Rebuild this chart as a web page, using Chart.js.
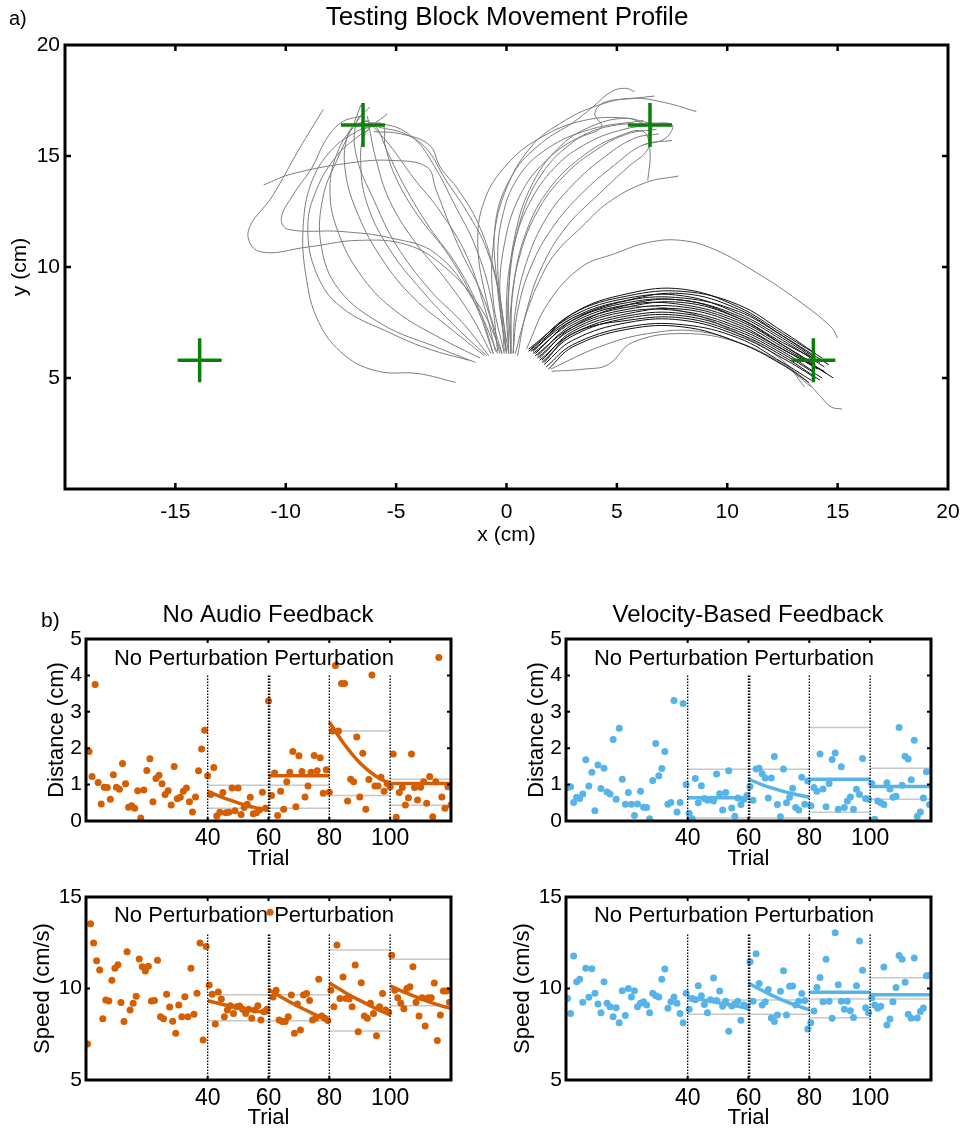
<!DOCTYPE html>
<html>
<head>
<meta charset="utf-8">
<script src="https://cdn.jsdelivr.net/npm/chart.js@4.4.1/dist/chart.umd.min.js"></script>
<style>
  body { margin: 0; background: #fff; }
  #page { position: relative; width: 968px; height: 1130px; overflow: hidden; }
  canvas { position: absolute; }
</style>
</head>
<body>
<div id="page">
  <canvas id="movement" width="974" height="550" style="left:0;top:0"></canvas>
  <canvas id="distNoAudio" width="480" height="285" style="left:0;top:590px"></canvas>
  <canvas id="distVelocity" width="488" height="285" style="left:480px;top:590px"></canvas>
  <canvas id="speedNoAudio" width="480" height="250" style="left:0;top:880px"></canvas>
  <canvas id="speedVelocity" width="488" height="250" style="left:480px;top:880px"></canvas>
</div>
<script>
// ---- a) movement profile ----
const targets = [[-13.9, 5.8], [-6.5, 16.4], [6.5, 16.4], [13.9, 5.8]];

// trajectories toward the upper-left target
const upperLeftPaths = [
  [[-2.3,4.8],[-4,5.2],[-5.8,5.3],[-7.3,6],[-8.5,7.5],[-9.1,9.7],[-9.2,12],[-8.8,13.9],[-7.9,15.3],[-6.8,16.1],[-6.3,16.3]],
  [[-1.7,5.8],[-3.5,6.3],[-5.2,7],[-7.5,8.2],[-8.6,9.7],[-9,11.8],[-8.6,13.5],[-7.7,15],[-6.7,15.9],[-6.2,16.2]],
  [[-1.2,5.9],[-3,6.8],[-5,8],[-6.5,9.5],[-7.6,11.5],[-8,13.5],[-7.6,15.3],[-6.8,16.4],[-6.2,16.6]],
  [[-1,6],[-2.5,7.2],[-4.2,8.6],[-5.6,10.3],[-6.7,12.3],[-7.3,14.3],[-7.2,15.9],[-6.6,16.8]],
  [[-0.8,6],[-2,7.5],[-3.5,9],[-5,11],[-6,13],[-6.8,15],[-6.8,16.5],[-6.2,17.2]],
  [[-0.7,6.1],[-1.6,7.8],[-2.8,9.5],[-4.2,11.2],[-5.3,13],[-5.9,14.8],[-6.2,16.2],[-6.3,16.8]],
  [[-0.6,6.1],[-1.2,8],[-2.2,10],[-3.5,11.8],[-4.6,13.6],[-5.4,15.2],[-5.9,16.3],[-6.4,16.6]],
  [[-0.5,6.2],[-1,8.2],[-1.8,10.5],[-3,12.5],[-4.2,14],[-5.3,15.5],[-6.1,16.4]],
  [[-0.4,6.2],[-0.7,8.6],[-1.4,10.9],[-2.4,12.9],[-3.3,14.6],[-4.2,15.8],[-5.4,16.4],[-6.6,16.2]],
  [[-0.1,6.2],[-0.3,8.5],[-0.9,10.8],[-1.8,12.5],[-2.8,14],[-3.6,15.3],[-4.6,16],[-5.8,16.3]],
  [[0,6.2],[-0.2,8],[-0.6,10],[-1.3,12],[-2.2,13.5],[-3,14.5],[-3.5,15.5],[-4.8,16],[-6,16.1]],
  [[-0.2,6.1],[-1.2,8.2],[-2.8,10],[-4.5,11],[-6.7,11.2],[-9,10.9],[-11.2,10.7],[-11.7,11.6],[-10.6,13.2],[-9.4,15.3],[-8.3,17.1]],
  [[-0.4,6.1],[-1.5,8.5],[-3.2,10.6],[-5.2,11.3],[-7.5,11.6],[-9.9,11.7],[-10.2,12.2],[-9.7,13.2],[-8.8,14.5],[-8.2,15.7],[-7.5,16.5],[-6.6,16.8]],
  [[-0.3,6.1],[-1,8.5],[-2.2,11],[-3.2,13.5],[-3.6,14.5],[-5.2,14.8],[-7,14.7],[-9.7,14.2],[-11,13.7]],
  [[-1.4,5.7],[-3.2,6.4],[-5.6,7.4],[-7.6,9],[-8.4,11],[-8.3,13.2],[-7.6,15],[-6.9,16.5],[-6.6,17.3]],
  [[-0.9,6],[-2.3,7.3],[-3.8,8.9],[-5.3,10.8],[-6.3,12.8],[-6.6,14.6],[-6.4,16],[-5.4,16.9]],
  [[-0.6,6.1],[-1.4,8.3],[-2.6,10.5],[-4,12.3],[-5,14],[-5.5,15.5],[-5.6,16.4],[-6.2,16.5]]
];

// trajectories toward the upper-right target
const upperRightPaths = [
  [[-0.2,6.1],[-0.9,8.5],[-1.3,11],[-1,13],[0,14.6],[1.5,15.8],[3.5,16.6],[5.5,16.7],[6.3,16.4]],
  [[-0.1,6.1],[-0.6,8.5],[-0.6,11],[-0.1,13.3],[1.1,15.4],[2.65,16.6],[4.2,17.3],[5.7,17.6],[7.2,17.4],[8.6,17]],
  [[0,6.1],[-0.3,8.5],[-0.1,11],[0.6,13.2],[1.8,14.8],[3.4,15.9],[5,16.4],[6.4,16.4]],
  [[0.1,6.1],[0,8.5],[0.3,10.8],[1,12.8],[2.2,14.5],[3.7,15.6],[5.3,16.2],[6.6,16.4]],
  [[0.2,6.1],[0.2,8.2],[0.6,10.5],[1.4,12.5],[2.6,14.1],[4.1,15.3],[5.5,16],[6.8,16.2]],
  [[0.3,6.1],[0.4,8],[0.9,10.2],[1.8,12.2],[3,13.7],[4.5,15],[5.8,15.8],[6.9,16]],
  [[0.3,6.1],[0.5,8],[1.1,10],[2.1,11.8],[3.4,13.3],[4.9,14.6],[6.2,15.5],[7.5,15.7]],
  [[0.4,6.1],[0.85,7.75],[1.45,9.3],[2.2,10.6],[3.4,11.8],[4.6,12.9],[6.3,13.8],[7.8,14.1]],
  [[0.2,6.1],[0.1,8.8],[0.4,11.5],[1.2,13.8],[2.5,15.5],[4,16.4],[5.4,16.7],[6.4,16.5],[7.5,16.4],[7.2,15.8],[6.2,15.5]],
  [[0,6.1],[-0.4,9],[-0.5,12],[0.3,14.2],[1.6,15.6],[3,16.5],[3.9,17.2],[4.75,17.9],[5.4,18.05],[5.8,17.9]],
  [[0.1,6.1],[0.1,9],[0.6,12],[1.6,14.2],[3.1,15.7],[4.3,16.3],[4,16.9],[4.4,17.4],[5.8,17.6],[6.7,17.7]],
  [[0.2,6.1],[0.3,9],[0.9,11.6],[2,13.6],[3.6,15.1],[5.1,15.9],[6.2,16.1],[6.5,15.2],[6.4,13.9]],
  [[0.5,6],[0.9,8],[1.6,10],[2.7,11.8],[4.2,13.3],[5.5,14.5],[6.4,15.3],[6.6,16.3]],
  [[0.1,6.1],[-0.2,8],[-0.4,10.2],[-0.2,12.2],[0.5,14],[1.8,15.3],[3.8,16.2],[6.2,16.6]]
];

// trajectories toward the right target (dark bundle)
const rightPaths = [
  [[1.0,6.3],[3,7.8],[5.5,8.6],[8,8.7],[10.5,7.9],[12.5,6.8],[14.2,5.7]],
  [[1.1,6.2],[3,7.6],[5.5,8.4],[8,8.5],[10.5,7.8],[12.5,6.7],[14.4,5.5]],
  [[1.2,6.1],[3,7.5],[5.5,8.3],[8,8.3],[10.5,7.6],[12.5,6.5],[14.0,5.6]],
  [[1.3,6.0],[3,7.3],[5.5,8.1],[8,8.2],[10.5,7.5],[12.5,6.4],[14.5,5.2]],
  [[1.4,5.9],[3,7.2],[5.5,8.0],[8,8.0],[10.5,7.3],[12.5,6.3],[14.1,5.4]],
  [[1.5,5.8],[3,7.0],[5.5,7.8],[8,7.9],[10.5,7.2],[12.5,6.2],[13.9,5.3]],
  [[1.6,5.7],[3,6.9],[5.5,7.7],[8,7.8],[10.5,7.1],[12.5,6.1],[14.3,5.0]],
  [[1.7,5.6],[3,6.7],[5.5,7.5],[8,7.6],[10.5,6.9],[12.5,5.9],[14.0,5.0]],
  [[1.8,5.5],[3,6.5],[5.5,7.3],[8,7.4],[10.5,6.8],[12.5,5.7],[13.8,4.9]],
  [[1.2,6.2],[3,7.9],[5.5,8.8],[8,9.0],[10.5,8.2],[12.5,7.0],[14.3,5.9]],
  [[1.0,6.2],[3,7.7],[5.5,8.5],[8,8.6],[10.5,8.0],[12.5,6.9],[14.6,5.6]],
  [[1.4,6.0],[3,7.4],[5.5,8.2],[8,8.4],[10.5,7.7],[12.5,6.6],[14.1,5.8]],
  [[1.6,5.8],[3,7.1],[5.5,7.9],[8,8.1],[10.5,7.4],[12.5,6.3],[14.4,5.3]],
  [[1.9,5.4],[3,6.4],[5.5,7.2],[8,7.3],[10.5,6.6],[12.5,5.6],[13.7,4.8]],
  [[1.3,6.1],[3,7.6],[5.5,8.5],[8,8.8],[10.5,8.1],[12.5,6.9],[14.0,5.9]],
  [[1.5,5.9],[3,7.3],[5.5,8.3],[8,8.5],[10.5,7.7],[12.5,6.5],[14.8,5.0]],
  [[1.1,6.3],[3,7.9],[5.5,8.7],[8,8.9],[10.5,8.3],[12.5,7.1],[14.0,6.1]],
  [[1.7,5.7],[3,7.0],[5.5,7.6],[8,7.7],[10.5,7.0],[12.5,6.0],[14.2,4.9]]
];

// lighter outliers toward the right target
const rightGrayPaths = [
  [[0.9,6.3],[1.9,8.4],[3.4,10.0],[4.9,10.6],[6.4,11.1],[7.9,11.2],[9.4,10.8],[11.4,9.7],[13.2,8.5],[14.7,7.3],[15.0,6.8]],
  [[2,5.4],[4.2,6.4],[6.4,7.0],[8.7,7.1],[11,6.4],[13.2,5.2],[14.2,4.2],[14.7,3.7],[15.2,3.6]],
  [[2.05,5.3],[3.5,5.4],[4.6,5.6],[5.7,6.6],[8,7.0],[10.5,6.6],[12.5,5.6],[13.8,4.6]],
  [[1.2,6.2],[3,7.7],[5.5,8.2],[8,8.0],[10.5,7.0],[12.5,5.8],[13.5,4.6]]
];

// ---- b) per-trial results ----
const trialTicks = [40, 60, 80, 100];
const blockEdges = [40, 60, 60.4, 80, 100];

const distNoAudio = [
  1.91,1.22,3.75,1.06,0.47,0.93,0.92,0.6,1.27,0.93,0.87,1.58,1.02,0.38,0.42,0.35,0.83,0.08,0.85,1.39,
  1.71,0.53,1.17,1.26,1.02,0.73,0.83,0.44,1.5,0.61,0.65,0.82,0.91,0.53,0.25,0.66,1.38,1.98,2.49,1.24,
  0.73,1.47,0.14,0.24,0.78,0.23,0.24,0.91,0.28,0.91,0.18,0.37,0.46,0.65,0.2,0.23,0.3,0.79,0.35,3.3,
  0.7,1.32,0.15,0.82,0.32,1.08,1.34,1.91,0.39,1.79,1.36,0.66,0.96,1.34,1.8,1.38,1.74,0.76,1.41,0.79,
  2.47,4.27,2.47,3.78,3.78,0.55,1.15,1.08,2.31,0.66,1.86,0.32,1.14,4.01,0.96,0.96,1.2,0.82,1.03,0.94,
  1.84,0.1,0.78,0.92,0.44,0.64,1.84,0.92,0.58,0.93,1.08,0.49,1.22,0.12,1.08,4.49,0.66,0.35,0.94,0.44
];
const distVelocity = [
  0.92,0.94,0.51,0.65,0.62,0.74,1.68,0.96,1.34,0.28,1.54,0.89,1.45,0.8,0.74,2.24,0.6,2.55,1.15,0.46,
  0.78,0.46,0.15,0.47,0.82,0.38,0.37,0.06,1.11,2.13,1.24,1.44,1.91,0.46,0.51,3.31,0.25,0.51,3.23,1.0,
  0.21,0.06,1.17,0.5,0.97,0.62,0.57,0.6,0.55,1.29,0.75,0.3,0.78,1.38,0.36,0.13,0.63,0.45,0.6,0.7,
  0.95,0.57,1.43,1.45,1.3,1.18,0.63,1.18,1.77,0.45,0.12,1.43,0.5,0.65,0.9,0.37,0.3,1.2,0.46,1.1,
  0.42,0.92,0.82,1.84,0.88,0.39,1.03,1.69,1.87,0.32,1.49,0.37,0.55,0.66,0.32,0.87,0.73,1.72,0.62,0.6,
  1.03,0.05,0.55,0.5,0.45,1.05,0.88,0.65,0.68,2.57,0.98,1.78,1.7,1.13,2.22,0.13,0.25,0.63,1.35,0.45
];
const speedNoAudio = [
  6.97,13.54,12.49,11.52,11.01,8.35,9.37,9.32,10.45,11.1,11.3,9.23,8.19,12.01,8.83,9.19,9.57,11.61,11.19,10.96,
  11.21,9.32,9.34,11.54,8.46,8.35,9.68,8.99,8.21,7.55,9.1,8.46,9.55,8.46,11.1,8.59,9.74,12.49,7.19,12.3,
  10.19,9.68,8.06,9.81,9.43,8.46,8.83,9.06,8.64,9.0,9.04,8.86,8.64,8.86,8.37,8.82,9.06,8.28,8.73,8.86,
  14.16,9.54,9.9,8.28,8.19,8.19,8.46,9.64,7.55,9.15,7.73,9.64,9.72,9.35,8.28,8.37,10.5,8.5,8.37,8.25,
  9.9,9.0,12.38,9.45,10.63,9.45,9.43,9.0,11.28,7.64,10.32,8.5,8.37,9.2,8.64,7.42,9.0,9.72,8.82,8.7,
  11.82,9.9,9.5,9.2,8.9,10.0,10.1,11.19,9.25,8.5,9.5,7.95,9.5,9.5,10.3,7.16,8.55,9.87,9.87,9.25
];
const speedVelocity = [
  9.46,8.64,11.78,10.37,10.5,9.25,11.1,9.52,11.08,9.74,9.15,8.68,10.37,9.19,9.0,8.46,8.95,8.13,9.88,8.52,
  10.0,9.54,9.88,9.0,9.19,9.28,9.1,8.68,9.74,9.61,9.54,10.5,11.06,8.92,9.28,9.54,9.19,8.64,8.13,9.74,
  8.86,9.45,9.39,10.15,9.61,9.12,8.68,9.39,10.57,9.35,9.86,9.03,9.3,7.66,9.05,9.15,9.3,8.26,9.1,9.0,
  11.46,9.3,11.9,10.28,9.1,9.28,9.94,8.39,8.19,8.55,9.85,10.97,8.55,10.12,10.14,9.1,9.3,9.72,9.35,7.79,
  8.13,8.77,10.06,10.6,9.28,11.6,9.3,8.37,13.05,10.2,9.3,8.87,9.3,8.79,8.41,10.15,12.6,11.0,8.95,8.68,
  9.5,9.1,8.92,9.03,11.17,8.0,8.33,9.28,10.05,11.81,11.6,10.34,8.59,8.37,11.67,8.39,8.75,8.93,10.7,10.72
];

// block fits: [trial, value] points
const fitDistNoAudio = [
  [[40,0.82],[45,0.64],[50,0.5],[55,0.38],[60,0.3]],
  [[60,1.24],[80,1.24]],
  [[80,2.72],[85,2.1],[90,1.6],[95,1.25],[100,1.02]],
  [[100,1.03],[120,1.03]]
];
const fitDistVelocity = [
  [[40,0.64],[60,0.64]],
  [[60,1.15],[65,0.98],[70,0.85],[75,0.74],[80,0.65]],
  [[80,1.15],[100,1.15]],
  [[100,0.95],[120,0.95]]
];
const fitSpeedNoAudio = [
  [[40,9.33],[45,9.13],[50,8.95],[55,8.8],[60,8.68]],
  [[60,9.95],[65,9.45],[70,9.0],[75,8.6],[80,8.22]],
  [[80,10.3],[85,9.8],[90,9.35],[95,8.93],[100,8.55]],
  [[100,10.15],[105,9.78],[110,9.45],[115,9.15],[120,8.9]]
];
const fitSpeedVelocity = [
  [[40,9.55],[45,9.38],[50,9.22],[55,9.07],[60,8.93]],
  [[60,10.28],[65,9.85],[70,9.45],[75,9.12],[80,8.83]],
  [[80,9.8],[100,9.8]],
  [[100,9.66],[120,9.66]]
];

// gray reference bands: [fromTrial, toTrial, value]
const boundsDistNoAudio = [[40,80,0.98],[40,80,0.35],[80,100,2.47],[80,100,0.7],[100,120,1.15],[100,120,0.43]];
const boundsDistVelocity = [[40,80,1.42],[40,80,0.08],[80,100,2.57],[80,100,0.24],[100,120,1.45],[100,120,0.6]];
const boundsSpeedNoAudio = [[40,80,9.66],[40,80,8.24],[80,100,12.1],[80,100,7.68],[100,120,11.6],[100,120,9.06]];
const boundsSpeedVelocity = [[40,80,9.37],[40,80,8.59],[80,100,9.43],[80,100,8.4],[100,120,10.59],[100,120,9.43]];

const orange = '#d55e00';
const blue = '#56b4e9';
const FONT = "'Liberation Sans', Arial, Helvetica, sans-serif";

Chart.defaults.font.family = FONT;
Chart.defaults.color = '#000';

// box round the plot area, with inward ticks on all four sides
const framePlugin = {
  id: 'frame',
  afterDatasetsDraw(chart, args, opts) {
    const { ctx, chartArea: a } = chart;
    const x = chart.scales.x, y = chart.scales.y;
    ctx.save();
    ctx.strokeStyle = '#000';
    ctx.lineWidth = opts.tickWidth;
    ctx.beginPath();
    opts.xTicks.forEach(v => {
      const px = x.getPixelForValue(v);
      ctx.moveTo(px, a.bottom); ctx.lineTo(px, a.bottom - opts.tickLen);
      ctx.moveTo(px, a.top); ctx.lineTo(px, a.top + opts.tickLen);
    });
    opts.yTicks.forEach(v => {
      const py = y.getPixelForValue(v);
      ctx.moveTo(a.left, py); ctx.lineTo(a.left + opts.tickLen, py);
      ctx.moveTo(a.right, py); ctx.lineTo(a.right - opts.tickLen, py);
    });
    ctx.stroke();
    ctx.lineWidth = opts.width;
    ctx.strokeRect(a.left, a.top, a.right - a.left, a.bottom - a.top);
    ctx.restore();
  }
};

// free text: panel letters, titles, in-plot notes
const textPlugin = {
  id: 'texts',
  afterDraw(chart, args, opts) {
    const ctx = chart.ctx;
    ctx.save();
    ctx.fillStyle = '#000';
    ctx.textBaseline = 'middle';
    opts.items.forEach(t => {
      let px = t.x, py = t.y;
      if (t.data) {
        px = chart.scales.x.getPixelForValue(t.x);
        py = chart.scales.y.getPixelForValue(t.y);
      }
      ctx.font = t.size + 'px ' + FONT;
      ctx.textAlign = t.align || 'left';
      ctx.fillText(t.text, px, py);
    });
    ctx.restore();
  }
};

function toPoints(list) {
  return list.map(p => ({ x: p[0], y: p[1] }));
}

function pathDataset(path, color) {
  return {
    data: toPoints(path),
    showLine: true,
    borderColor: color,
    borderWidth: 1,
    pointRadius: 0,
    tension: 0.4
  };
}

// fixed axis boxes so the plot area lands where the figure has it
function fixHeight(h) {
  return s => { s.height = h; };
}
function fixWidth(w) {
  return s => { s.width = w; };
}

// Movement profile chart
function initMovementChart() {
  const datasets = [{
    data: toPoints(targets),
    pointStyle: 'cross',
    pointRadius: 22,
    pointBorderWidth: 3.5,
    pointBorderColor: '#0a800a',
    showLine: false
  }];
  rightPaths.forEach(p => datasets.push(pathDataset(p, '#111111')));
  rightGrayPaths.forEach(p => datasets.push(pathDataset(p, '#7d7d7d')));
  upperRightPaths.forEach(p => datasets.push(pathDataset(p, '#7d7d7d')));
  upperLeftPaths.forEach(p => datasets.push(pathDataset(p, '#7d7d7d')));

  // the big cross markers force ~26px of side padding, so the canvas is a bit wider than the page
  new Chart(document.getElementById('movement'), {
    type: 'scatter',
    data: { datasets },
    options: {
      responsive: false,
      animation: false,
      events: [],
      layout: { padding: { top: 45, right: 26 } },
      plugins: {
        legend: { display: false },
        tooltip: { enabled: false },
        frame: { xTicks: [-15, -10, -5, 0, 5, 10, 15], yTicks: [5, 10, 15], tickLen: 6, tickWidth: 2.5, width: 3 },
        texts: {
          items: [
            { text: 'a)', x: 9, y: 19, size: 20 },
            { text: 'Testing Block Movement Profile', x: 507, y: 18, size: 26, align: 'center' }
          ]
        }
      },
      scales: {
        x: {
          type: 'linear',
          min: -20,
          max: 20,
          afterFit: fixHeight(61),
          grid: { display: false, drawTicks: false },
          border: { display: false },
          ticks: {
            stepSize: 5,
            padding: 13,
            font: { size: 21, lineHeight: 1 },
            callback: v => (v === -20 ? '' : v)
          },
          title: { display: true, text: 'x (cm)', font: { size: 21, lineHeight: 1 }, padding: { top: 0, bottom: 4 } }
        },
        y: {
          min: 0,
          max: 20,
          afterFit: fixWidth(65),
          grid: { display: false, drawTicks: false },
          border: { display: false },
          ticks: {
            stepSize: 5,
            padding: 5,
            font: { size: 21, lineHeight: 1 },
            callback: v => (v === 0 ? '' : v)
          },
          title: { display: true, text: 'y (cm)', font: { size: 21, lineHeight: 1 }, padding: { top: 10, bottom: 0 } }
        }
      }
    },
    plugins: [framePlugin, textPlugin]
  });
}

// One trial panel
function initTrialPanel(id, o) {
  const datasets = [];
  blockEdges.forEach(x => datasets.push({
    data: [{ x: x, y: o.yMin }, { x: x, y: o.dividerTop }],
    showLine: true,
    borderColor: '#000',
    borderWidth: 1.3,
    borderDash: [1.5, 1.5],
    pointRadius: 0
  }));
  o.fits.forEach(f => datasets.push({
    data: toPoints(f),
    showLine: true,
    borderColor: o.color,
    borderWidth: 3.5,
    pointRadius: 0,
    cubicInterpolationMode: 'monotone'
  }));
  datasets.push({
    data: o.values.map((v, i) => ({ x: o.firstTrial + i, y: v })),
    pointRadius: 3.5,
    pointBackgroundColor: o.color,
    pointBorderWidth: 0,
    showLine: false
  });
  o.bounds.forEach(b => datasets.push({
    data: [{ x: b[0], y: b[2] }, { x: b[1], y: b[2] }],
    showLine: true,
    borderColor: '#c8c8c8',
    borderWidth: 1.5,
    pointRadius: 0
  }));

  new Chart(document.getElementById(id), {
    type: 'scatter',
    data: { datasets },
    options: {
      responsive: false,
      animation: false,
      events: [],
      layout: { padding: { top: o.padTop, right: o.padRight } },
      plugins: {
        legend: { display: false },
        tooltip: { enabled: false },
        frame: { xTicks: trialTicks, yTicks: o.yInnerTicks, tickLen: 4, tickWidth: 2, width: 3 },
        texts: { items: o.texts }
      },
      scales: {
        x: {
          type: 'linear',
          min: 0,
          max: 120,
          afterBuildTicks: s => { s.ticks = trialTicks.map(v => ({ value: v })); },
          afterFit: fixHeight(o.xAxisHeight),
          grid: { display: false, drawTicks: false },
          border: { display: false },
          ticks: { padding: o.xTickPad, font: { size: 23, lineHeight: 1 } },
          title: { display: true, text: 'Trial', font: { size: 22, lineHeight: 1 }, padding: { top: 0, bottom: o.xTitlePad } }
        },
        y: {
          min: o.yMin,
          max: o.yMax,
          afterFit: fixWidth(86),
          grid: { display: false, drawTicks: false },
          border: { display: false },
          ticks: { stepSize: o.yStep, padding: 4, font: { size: 21, lineHeight: 1 } },
          title: { display: true, text: o.yTitle, font: { size: 22, lineHeight: 1 }, padding: { top: o.yTitlePad, bottom: 0 } }
        }
      }
    },
    plugins: [framePlugin, textPlugin]
  });
}

document.addEventListener('DOMContentLoaded', function() {
  initMovementChart();

  const distCommon = {
    yMin: 0, yMax: 5, yStep: 1, dividerTop: 4, yInnerTicks: [1, 2, 3, 4],
    yTitle: 'Distance (cm)', yTitlePad: 46,
    padTop: 49, xAxisHeight: 54, xTickPad: 6, xTitlePad: 5
  };
  const speedCommon = {
    yMin: 5, yMax: 15, yStep: 5, dividerTop: 13, yInnerTicks: [10],
    yTitle: 'Speed (cm/s)', yTitlePad: 32,
    padTop: 17, xAxisHeight: 50, xTickPad: 7, xTitlePad: 1
  };
  const note = (y) => ({ text: 'No Perturbation Perturbation', x: 9.2, y: y, size: 22, data: true });

  initTrialPanel('distNoAudio', Object.assign({}, distCommon, {
    values: distNoAudio, firstTrial: 1, color: orange, fits: fitDistNoAudio, bounds: boundsDistNoAudio, padRight: 29,
    texts: [
      { text: 'b)', x: 41, y: 31, size: 21 },
      { text: 'No Audio Feedback', x: 268, y: 25, size: 24, align: 'center' },
      note(4.45)
    ]
  }));
  initTrialPanel('distVelocity', Object.assign({}, distCommon, {
    values: distVelocity, firstTrial: 0.5, color: blue, fits: fitDistVelocity, bounds: boundsDistVelocity, padRight: 37,
    texts: [
      { text: 'Velocity-Based Feedback', x: 268, y: 25, size: 24, align: 'center' },
      note(4.45)
    ]
  }));
  initTrialPanel('speedNoAudio', Object.assign({}, speedCommon, {
    values: speedNoAudio, firstTrial: 0.5, color: orange, fits: fitSpeedNoAudio, bounds: boundsSpeedNoAudio, padRight: 29,
    texts: [note(13.96)]
  }));
  initTrialPanel('speedVelocity', Object.assign({}, speedCommon, {
    values: speedVelocity, firstTrial: 0.5, color: blue, fits: fitSpeedVelocity, bounds: boundsSpeedVelocity, padRight: 37,
    texts: [note(13.96)]
  }));
});
</script>
</body>
</html>
